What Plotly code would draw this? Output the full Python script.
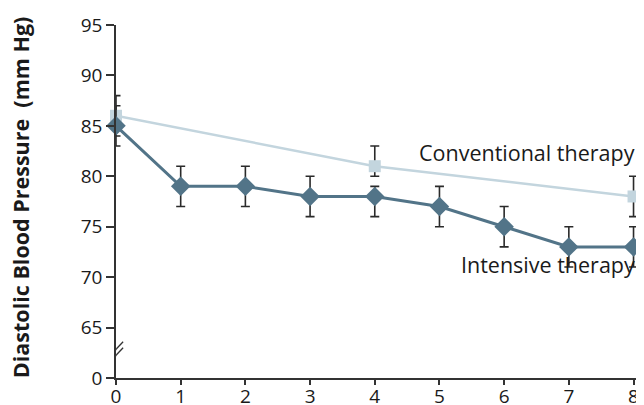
import plotly.graph_objects as go

# Data
years_int = [0, 1, 2, 3, 4, 5, 6, 7, 8]
int_vals = [85, 79, 79, 78, 78, 77, 75, 73, 73]
int_err_plus = [2, 2, 2, 2, 1, 2, 2, 2, 2]
int_err_minus = [2, 2, 2, 2, 2, 2, 2, 2, 2]

years_conv = [0, 4, 8]
conv_vals = [86, 81, 78]
conv_err_plus = [2, 2, 2]
conv_err_minus = [2, 1, 2]

ytick_vals = [60, 65, 70, 75, 80, 85, 90, 95]
ytick_text = ["0", "65", "70", "75", "80", "85", "90", "95"]
xtick_vals = [0, 1, 2, 3, 4, 5, 6, 7, 8]

FONT = "Open Sans, Noto Sans, sans-serif"
INT_COLOR = "#527488"
CONV_COLOR = "#c3d5de"
ERR_COLOR = "#2a2a2a"
TXT = "#1a1a1a"

fig = go.Figure()

fig.add_trace(go.Scatter(
    x=years_conv, y=conv_vals, mode="lines+markers",
    line=dict(color=CONV_COLOR, width=2.5),
    marker=dict(symbol="square", size=12, color=CONV_COLOR),
    error_y=dict(type="data", symmetric=False, array=conv_err_plus,
                 arrayminus=conv_err_minus, color=ERR_COLOR, thickness=1.6, width=4.5),
    cliponaxis=False, showlegend=False,
))

fig.add_trace(go.Scatter(
    x=years_int, y=int_vals, mode="lines+markers",
    line=dict(color=INT_COLOR, width=3),
    marker=dict(symbol="diamond", size=15, color=INT_COLOR),
    error_y=dict(type="data", symmetric=False, array=int_err_plus,
                 arrayminus=int_err_minus, color=ERR_COLOR, thickness=1.6, width=4.5),
    cliponaxis=False, showlegend=False,
))

# page body has an 8px margin: figure placed at (8, 8) in the window
fig.update_layout(
    width=636, height=397,
    margin=dict(l=108, r=4, t=17, b=27, autoexpand=False),
    paper_bgcolor="white", plot_bgcolor="white",
    font=dict(family=FONT, size=19, color=TXT),
    xaxis=dict(range=[0, 8.1], tickvals=xtick_vals, showgrid=False, zeroline=False,
               automargin=False,
               showline=True, linecolor="#333333", linewidth=1.5,
               ticks="outside", ticklen=5, tickwidth=1.5, tickcolor="#333333",
               ticklabelstandoff=-5,
               tickfont=dict(family=FONT, size=19, color=TXT)),
    yaxis=dict(range=[60, 95], tickvals=ytick_vals, ticktext=ytick_text,
               showgrid=False, zeroline=False, automargin=False,
               showline=True, linecolor="#333333", linewidth=1.5,
               ticks="outside", ticklen=8, tickwidth=1.5, tickcolor="#333333",
               tickfont=dict(family=FONT, size=19, color=TXT)),
)

# axis break marks
for off in (0.0, 0.6):
    fig.add_shape(type="line", xref="x", yref="y",
                  x0=-0.11, y0=61.5 + off, x1=0.11, y1=63.0 + off,
                  line=dict(color="#333333", width=1.3))

fig.add_annotation(x=-0.181, y=0.51, xref="paper", yref="paper",
                   xanchor="center", yanchor="middle",
                   text="<b>Diastolic Blood Pressure  (mm Hg)</b>", textangle=-90,
                   showarrow=False, font=dict(family=FONT, size=21.5, color=TXT))

fig.add_annotation(x=8.05, y=82.4, xref="x", yref="y", xanchor="right",
                   text="Conventional therapy", showarrow=False,
                   font=dict(family=FONT, size=21.5, color=TXT))
fig.add_annotation(x=8.05, y=71.3, xref="x", yref="y", xanchor="right",
                   text="Intensive therapy", showarrow=False,
                   font=dict(family=FONT, size=21.5, color=TXT))

fig.write_html("out.html")
